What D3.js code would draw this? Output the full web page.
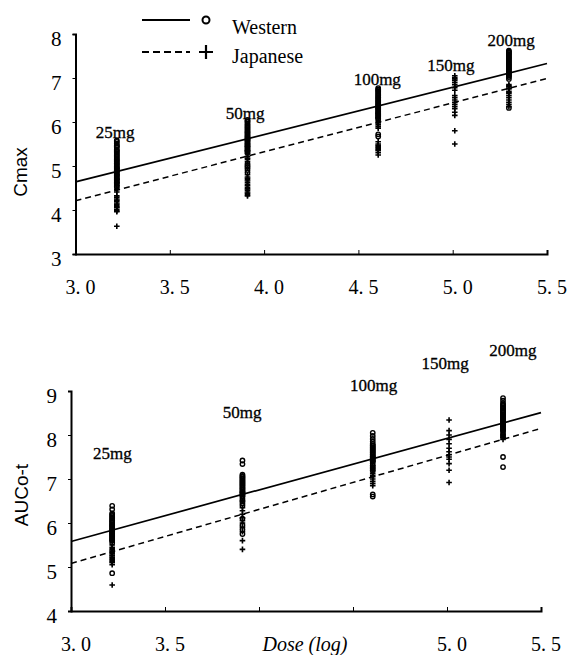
<!DOCTYPE html>
<html>
<head>
<meta charset="utf-8">
<script src="https://cdn.jsdelivr.net/npm/d3@7"></script>
<style>
  body { margin: 0; background: #fff; }
  svg { display: block; }
</style>
</head>
<body>
<div id="chart"></div>
<script>
// dose groups (x = log dose)
const doseNames = ["25mg", "50mg", "100mg", "150mg", "200mg"];
const doseLog = [3.219, 3.912, 4.605, 5.011, 5.298];
const legendNames = ["Western", "Japanese"];

// x tick labels
const topTicks = [3.0, 3.5, 4.0, 4.5, 5.0, 5.5];
const topTickLabels = ["3. 0", "3. 5", "4. 0", "4. 5", "5. 0", "5. 5"];
const bottomTicks = [3.0, 3.5, 4.0, 4.5, 5.0, 5.5];
const bottomTickLabels = ["3. 0", "3. 5", "", "", "5. 0", "5. 5"];

// Cmax (log) per subject, by dose group
const cmaxWestern = [
    [5.58, 5.55, 5.51, 5.47, 5.45, 5.43, 5.38, 5.35, 5.33, 5.30, 5.27, 5.24, 5.21, 5.18, 5.15, 5.13, 5.10, 5.07, 5.05, 5.02, 4.99, 4.97, 4.94, 4.91, 4.90, 4.87, 4.85, 4.82, 4.79, 4.77, 4.74, 4.71, 4.69, 4.66, 4.63, 4.61, 4.57, 4.53],
    [6.05, 6.02, 6.00, 5.96, 5.93, 5.90, 5.87, 5.84, 5.81, 5.78, 5.76, 5.73, 5.70, 5.67, 5.65, 5.62, 5.59, 5.57, 5.54, 5.51, 5.49, 5.46, 5.43, 5.41, 5.38, 5.35, 5.33, 5.30, 5.05, 5.01, 4.98, 4.91, 4.85],
    [6.77, 6.74, 6.72, 6.69, 6.66, 6.63, 6.60, 6.57, 6.55, 6.52, 6.49, 6.47, 6.44, 6.41, 6.39, 6.36, 6.33, 6.31, 6.28, 6.25, 6.23, 6.20, 6.17, 6.15, 6.12, 6.09, 6.07, 5.72, 5.67],
    [],
    [7.62, 7.60, 7.58, 7.55, 7.53, 7.50, 7.47, 7.45, 7.42, 7.39, 7.37, 7.34, 7.31, 7.29, 7.26, 7.23, 7.21, 7.18, 7.15, 7.13, 7.10, 7.07, 7.05, 7.02, 6.98, 6.32]
];
const cmaxJapanese = [
    [4.95, 4.80, 4.70, 4.62, 4.55, 4.50, 4.46, 4.41, 4.32, 4.29, 4.25, 4.22, 4.20, 4.16, 4.13, 4.10, 4.07, 4.05, 4.01, 3.98, 3.96, 3.63],
    [5.60, 5.45, 5.35, 5.28, 5.22, 5.18, 5.15, 5.10, 4.95, 4.80, 4.75, 4.72, 4.69, 4.66, 4.62, 4.58, 4.55, 4.51, 4.48, 4.45, 4.41, 4.38, 4.35, 4.32],
    [6.30, 6.20, 6.10, 6.02, 5.98, 5.94, 5.90, 5.86, 5.55, 5.50, 5.47, 5.45, 5.42, 5.40, 5.37, 5.35, 5.30, 5.25],
    [7.05, 7.01, 6.98, 6.95, 6.90, 6.85, 6.78, 6.72, 6.60, 6.55, 6.50, 6.45, 6.40, 6.35, 6.30, 6.22, 6.15, 5.80, 5.50],
    [6.85, 6.82, 6.80, 6.77, 6.75, 6.70, 6.67, 6.65, 6.60, 6.55, 6.50, 6.45, 6.40, 6.35]
];
// AUC (log) per subject, by dose group
const aucWestern = [
    [6.39, 6.31, 6.22, 6.19, 6.16, 6.13, 6.10, 6.07, 6.05, 6.02, 6.00, 5.97, 5.95, 5.93, 5.91, 5.88, 5.86, 5.84, 5.82, 5.80, 5.78, 5.76, 5.74, 5.72, 5.70, 5.67, 5.65, 5.62, 5.60, 5.55, 4.86],
    [7.42, 7.34, 7.10, 7.07, 7.05, 7.02, 7.00, 6.97, 6.95, 6.92, 6.90, 6.87, 6.85, 6.82, 6.80, 6.77, 6.75, 6.72, 6.70, 6.67, 6.65, 6.62, 6.60, 6.55, 6.50, 6.45, 6.40, 6.10, 5.95, 5.85, 5.75],
    [8.05, 7.98, 7.91, 7.85, 7.80, 7.77, 7.75, 7.72, 7.70, 7.67, 7.65, 7.62, 7.60, 7.57, 7.55, 7.52, 7.50, 7.47, 7.45, 7.42, 7.40, 7.35, 7.30, 7.25, 7.20, 6.65, 6.60],
    [],
    [8.84, 8.78, 8.72, 8.69, 8.66, 8.63, 8.60, 8.57, 8.55, 8.52, 8.50, 8.47, 8.45, 8.42, 8.40, 8.37, 8.35, 8.32, 8.30, 8.27, 8.25, 8.22, 8.20, 8.17, 8.15, 8.12, 8.10, 8.05, 8.00, 7.95, 7.50, 7.27]
];
const aucJapanese = [
    [5.80, 5.60, 5.50, 5.45, 5.42, 5.39, 5.36, 5.33, 5.30, 5.27, 5.25, 5.22, 5.20, 5.17, 5.15, 5.12, 5.10, 5.05, 4.59],
    [6.70, 6.50, 6.35, 6.28, 6.20, 6.12, 6.05, 6.00, 5.90, 5.80, 5.60, 5.40],
    [7.50, 7.40, 7.30, 7.25, 7.20, 7.16, 7.12, 7.08, 7.05, 7.00, 6.95, 6.90, 6.85],
    [8.34, 8.10, 8.00, 7.90, 7.80, 7.70, 7.62, 7.55, 7.50, 7.45, 7.35, 7.20, 6.92],
    [8.30, 8.20, 8.10, 8.00, 7.95, 7.90]
];

// regression lines, values at x = 3.0 and x = 5.5
const fitX = [3.0, 5.5];
const cmaxFitWestern = [4.64, 7.33];
const cmaxFitJapanese = [4.21, 6.99];
const aucFitWestern = [5.58, 8.51];
const aucFitJapanese = [5.08, 8.15];

// dose label anchors (data units)
const cmaxLabelX = [3.21, 3.90, 4.60, 4.99, 5.31];
const cmaxLabelY = [5.77, 6.20, 6.98, 7.30, 7.86];
const aucLabelX = [3.22, 3.91, 4.61, 4.99, 5.35];
const aucLabelY = [7.59, 8.52, 9.14, 9.64, 9.93];

const width = 569, height = 655;
const serif = "'Liberation Serif', 'Times New Roman', serif";
const sans = "'Liberation Sans', Arial, sans-serif";

const svg = d3.select('#chart').append('svg')
    .attr('width', width)
    .attr('height', height);

function drawPanel(cfg) {
    const x = d3.scaleLinear().domain([3.0, 5.5]).range([cfg.left, cfg.right]);
    const y = d3.scaleLinear().domain(cfg.yDomain).range([cfg.bottom, cfg.top]);
    const g = svg.append('g');

    // axes
    const xAxis = d3.axisBottom(x).tickValues(cfg.ticks).tickSize(-4).tickFormat('');
    const yAxis = d3.axisLeft(y).ticks(5).tickSize(3).tickFormat('');
    g.append('g').attr('transform', 'translate(0,' + cfg.bottom + ')').call(xAxis)
        .call(a => a.select('.domain').attr('stroke-width', 2));
    g.append('g').attr('transform', 'translate(' + cfg.left + ',0)').call(yAxis)
        .call(a => a.select('.domain').attr('stroke-width', 2));

    // tick labels
    g.selectAll('.xlab').data(cfg.ticks).enter().append('text')
        .attr('x', d => x(d) + 5)
        .attr('y', cfg.bottom + 40)
        .attr('text-anchor', 'middle')
        .style('font-family', serif)
        .style('font-size', '20px')
        .text((d, i) => cfg.tickLabels[i]);

    g.selectAll('.ylab').data(y.ticks(5)).enter().append('text')
        .attr('x', cfg.left - 14)
        .attr('y', d => y(d) + 12)
        .attr('text-anchor', 'end')
        .style('font-family', serif)
        .style('font-size', '21px')
        .text(d => d);

    // y title
    g.append('text')
        .attr('transform', 'translate(' + cfg.titleX + ',' + cfg.titleY + ') rotate(-90)')
        .attr('text-anchor', 'middle')
        .style('font-family', sans)
        .style('font-size', '19px')
        .text(cfg.title);

    // fitted lines
    const line = d3.line().x((d, i) => x(fitX[i])).y(d => y(d));
    g.append('path').datum(cfg.fitW).attr('d', line)
        .attr('fill', 'none').attr('stroke', '#000').attr('stroke-width', 1.7);
    g.append('path').datum(cfg.fitJ).attr('d', line)
        .attr('fill', 'none').attr('stroke', '#000').attr('stroke-width', 1.5)
        .attr('stroke-dasharray', '6,4');

    // points
    doseLog.forEach((dx, i) => {
        g.selectAll(null).data(cfg.western[i]).enter().append('circle')
            .attr('cx', x(dx))
            .attr('cy', d => y(d))
            .attr('r', 2.2)
            .attr('fill', 'none')
            .attr('stroke', '#000')
            .attr('stroke-width', 1.4);
        g.selectAll(null).data(cfg.japanese[i]).enter().append('path')
            .attr('transform', d => 'translate(' + x(dx) + ',' + y(d) + ')')
            .attr('d', 'M-2.8,0H2.8M0,-2.8V2.8')
            .attr('stroke', '#000')
            .attr('stroke-width', 1.6);
    });

    // dose labels
    g.selectAll('.dose').data(doseNames).enter().append('text')
        .attr('x', (d, i) => x(cfg.labelX[i]))
        .attr('y', (d, i) => y(cfg.labelY[i]) + 6)
        .attr('text-anchor', 'middle')
        .style('font-family', serif)
        .style('font-size', '17px')
        .style('stroke', '#000')
        .style('stroke-width', 0.3)
        .text(d => d);
}

drawPanel({
    left: 75.5, right: 547, top: 34, bottom: 254,
    yDomain: [3, 8],
    ticks: topTicks, tickLabels: topTickLabels,
    title: 'Cmax', titleX: 27, titleY: 172,
    fitW: cmaxFitWestern, fitJ: cmaxFitJapanese,
    western: cmaxWestern, japanese: cmaxJapanese,
    labelX: cmaxLabelX, labelY: cmaxLabelY
});

drawPanel({
    left: 71, right: 541, top: 391, bottom: 611,
    yDomain: [4, 9],
    ticks: bottomTicks, tickLabels: bottomTickLabels,
    title: 'AUCo-t', titleX: 28, titleY: 495,
    fitW: aucFitWestern, fitJ: aucFitJapanese,
    western: aucWestern, japanese: aucJapanese,
    labelX: aucLabelX, labelY: aucLabelY
});

// x title of lower panel
svg.append('text')
    .attr('x', 305)
    .attr('y', 651)
    .attr('text-anchor', 'middle')
    .style('font-family', serif)
    .style('font-style', 'italic')
    .style('font-size', '20px')
    .text('Dose (log)');

// legend
const legend = svg.append('g').attr('transform', 'translate(142,0)');
legendNames.forEach((name, i) => {
    const ly = i === 0 ? 20 : 52;
    const row = legend.append('g').attr('transform', 'translate(0,' + ly + ')');
    row.append('line')
        .attr('x1', 0).attr('x2', 48)
        .attr('stroke', '#000').attr('stroke-width', 2)
        .attr('stroke-dasharray', i === 0 ? null : '7,4');
    if (i === 0) {
        row.append('circle').attr('cx', 64).attr('cy', 0).attr('r', 3.5)
            .attr('fill', 'none').attr('stroke', '#000').attr('stroke-width', 2);
    } else {
        row.append('path').attr('d', 'M57,0H71M64,-7V7')
            .attr('stroke', '#000').attr('stroke-width', 2.2);
    }
    row.append('text')
        .attr('x', 90)
        .attr('y', i === 0 ? 14 : 11)
        .style('font-family', serif)
        .style('font-size', '20px')
        .text(name);
});
</script>
</body>
</html>
